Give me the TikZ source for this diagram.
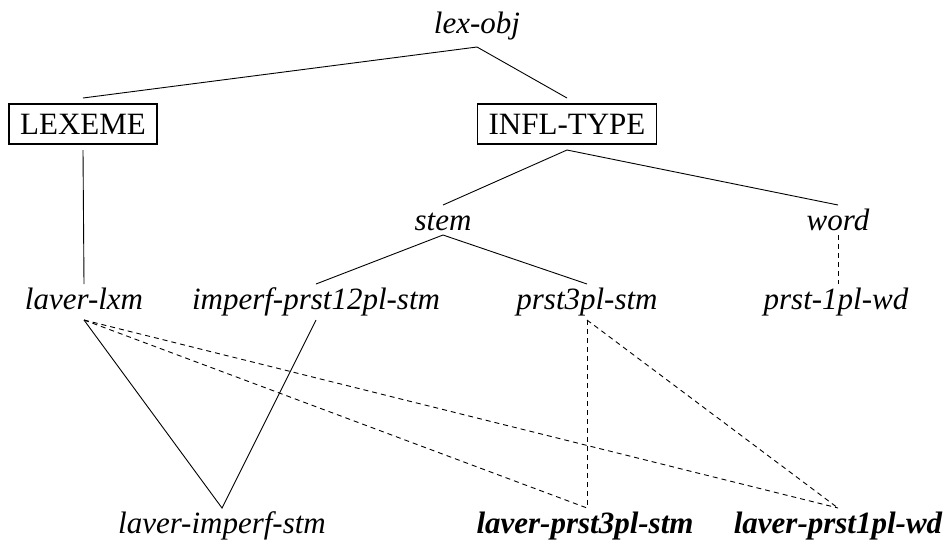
\documentclass[tikz,border=0pt]{standalone}
\usepackage{fontspec}
\setmainfont{LiberationSerif}[
  Extension=.ttf,
  UprightFont=*-Regular,
  BoldFont=*-Bold,
  ItalicFont=*-Italic,
  BoldItalicFont=*-BoldItalic]
\begin{document}
\begin{tikzpicture}[x=1pt,y=-1pt,
  font=\fontsize{31}{37}\selectfont,
  every node/.style={inner sep=0pt},
  lbl/.style={anchor=base,font=\fontsize{31}{37}\selectfont\itshape,
              text height=21pt,text depth=7pt,outer ysep=4pt},
  lblflat/.style={lbl,text depth=1pt},
  lblbold/.style={lbl,font=\fontsize{31}{37}\selectfont\bfseries\itshape},
  typebox/.style={anchor=base,draw,line width=1.6pt,inner xsep=11pt,
                  inner ysep=10pt,text height=20pt,text depth=0pt,outer ysep=6pt},
  link/.style={line width=0.9pt},
  dlink/.style={line width=0.9pt,dash pattern=on 5pt off 4pt}]
\useasboundingbox (0,0) rectangle (946,542);

% top type and the two partitions
\node[lbl,outer ysep=7pt] (lexobj) at (477,33) {lex-obj};
\node[typebox] (lexeme) at (83,134) {LEXEME};
\node[typebox] (infl) at (567,134) {INFL-TYPE};

% inflection subtypes
\node[lblflat] (stem) at (443,230) {stem};
\node[lblflat] (word) at (838,230) {word};

% leaf types
\node[lbl] (laverlxm) at (84,309) {laver-lxm};
\node[lbl] (imperf) at (316,309) {imperf-prst12pl-stm};
\node[lbl] (prst3pl) at (587,309) {prst3pl-stm};
\node[lbl] (prst1pl) at (836,309) {prst-1pl-wd};

% combined types
\node[lbl] (laverimperf) at (222,533) {laver-imperf-stm};
\node[lblbold] (laverprst3pl) at (585,533) {laver-prst3pl-stm};
\node[lblbold] (laverprst1pl) at (838,533) {laver-prst1pl-wd};

% hierarchy
\draw[link] (lexeme.north) -- (lexobj.south) -- (infl.north);
\draw[link] (lexeme.south) -- (laverlxm.north);
\draw[link] (stem.north) -- (infl.south) -- (word.north);
\draw[link] (imperf.north) -- (stem.south) -- (prst3pl.north);
\draw[dlink] (word.south) -- (word.south |- prst1pl.north);

% combinations
\draw[link] (laverlxm.south) -- (laverimperf.north) -- (imperf.south);
\draw[dlink] (laverlxm.south) -- (prst3pl.south |- laverprst3pl.north);
\draw[dlink] (laverlxm.south) -- (laverprst1pl.north);
\draw[dlink] (prst3pl.south) -- (prst3pl.south |- laverprst3pl.north);
\draw[dlink] (prst3pl.south) -- (laverprst1pl.north);
\end{tikzpicture}
\end{document}
